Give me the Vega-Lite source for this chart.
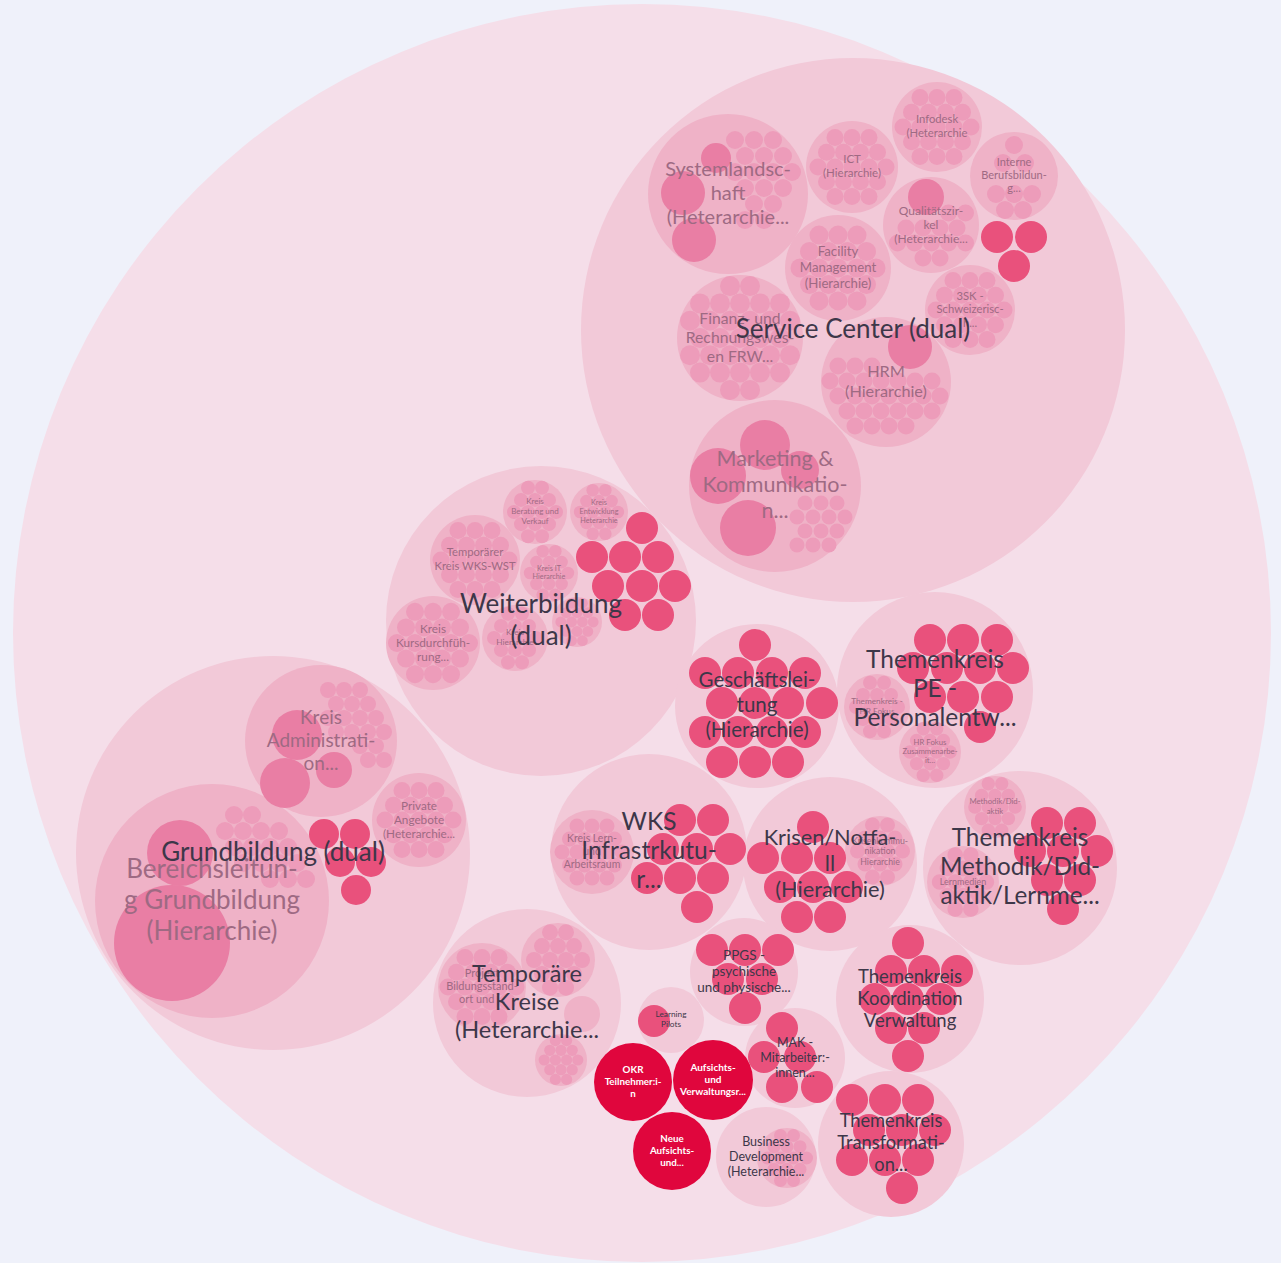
{
"$schema": "https://vega.github.io/schema/vega-lite/v6.json",
"width": 1281, "height": 1263,
"autosize": {"type": "none"},
"padding": 0,
"background": "#eff1fa",
"config": {"view": {"stroke": null}},
"data": {"values": [
{"g":"root","x":642,"y":633,"r":629},
{"g":"c1","x":853,"y":330,"r":272,"t":"Service Center (dual)"},
{"g":"c1","x":541,"y":621,"r":155,"t":"Weiterbildung\n(dual)"},
{"g":"c1","x":273,"y":853,"r":197,"t":"Grundbildung (dual)"},
{"g":"c1","x":757,"y":706,"r":82,"t":"Geschäftslei-\ntung\n(Hierarchie)"},
{"g":"c1","x":935,"y":690,"r":98,"t":"Themenkreis\nPE -\nPersonalentw..."},
{"g":"c1","x":649,"y":852,"r":98,"t":"WKS\nInfrastrkutu-\nr..."},
{"g":"c1","x":830,"y":864,"r":87,"t":"Krisen/Notfa-\nll\n(Hierarchie)"},
{"g":"c1","x":1020,"y":868,"r":97,"t":"Themenkreis\nMethodik/Did-\naktik/Lernme..."},
{"g":"c1","x":527,"y":1003,"r":94,"t":"Temporäre\nKreise\n(Heterarchie..."},
{"g":"c1","x":744,"y":972,"r":54,"t":"PPGS -\npsychische\nund physische..."},
{"g":"c1","x":910,"y":999,"r":74,"t":"Themenkreis\nKoordination\nVerwaltung"},
{"g":"c1","x":795,"y":1058,"r":50,"t":"MAK -\nMitarbeiter:-\ninnen..."},
{"g":"c1","x":891,"y":1144,"r":73,"t":"Themenkreis\nTransformati-\non..."},
{"g":"c1","x":766,"y":1157,"r":50,"t":"Business\nDevelopment\n(Heterarchie..."},
{"g":"c1","x":671,"y":1020,"r":33,"t":"Learning\nPilots"},
{"g":"c2","x":728,"y":194,"r":80,"t":"Systemlandsc-\nhaft\n(Heterarchie..."},
{"g":"c2","x":852,"y":167,"r":46,"t":"ICT\n(Hierarchie)"},
{"g":"c2","x":937,"y":127,"r":45,"t":"Infodesk\n(Heterarchie"},
{"g":"c2","x":1014,"y":176,"r":44,"t":"Interne\nBerufsbildun-\ng..."},
{"g":"c2","x":931,"y":225,"r":48,"t":"Qualitätszir-\nkel\n(Heterarchie..."},
{"g":"c2","x":838,"y":268,"r":53,"t":"Facility\nManagement\n(Hierarchie)"},
{"g":"c2","x":970,"y":310,"r":45,"t":"3SK -\nSchweizerisc-\nh..."},
{"g":"c2","x":740,"y":338,"r":63,"t":"Finanz- und\nRechnungswes-\nen FRW..."},
{"g":"c2","x":886,"y":382,"r":65,"t":"HRM\n(Hierarchie)"},
{"g":"c2","x":775,"y":486,"r":86,"t":"Marketing &\nKommunikatio-\nn..."},
{"g":"c2","x":535,"y":512,"r":32,"t":"Kreis\nBeratung und\nVerkauf"},
{"g":"c2","x":599,"y":512,"r":29,"t":"Kreis\nEntwicklung\nHeterarchie"},
{"g":"c2","x":475,"y":560,"r":45,"t":"Temporärer\nKreis WKS-WST"},
{"g":"c2","x":549,"y":573,"r":29,"t":"Kreis IT\nHierarchie"},
{"g":"c2","x":433,"y":643,"r":47,"t":"Kreis\nKursdurchfüh-\nrung..."},
{"g":"c2","x":515,"y":638,"r":33,"t":"Kreis\nHierarchie"},
{"g":"c2","x":577,"y":622,"r":25},
{"g":"c2","x":321,"y":741,"r":76,"t":"Kreis\nAdministrati-\non..."},
{"g":"c2","x":419,"y":820,"r":47,"t":"Private\nAngebote\n(Heterarchie..."},
{"g":"c2","x":212,"y":901,"r":117,"t":"Bereichsleitun-\ng Grundbildung\n(Hierarchie)"},
{"g":"c2","x":877,"y":707,"r":33,"t":"Themenkreis -\nHR Fokus"},
{"g":"c2","x":930,"y":752,"r":31,"t":"HR Fokus\nZusammenarbe-\nit..."},
{"g":"c2","x":592,"y":852,"r":42,"t":"Kreis Lern-\nund\nArbeitsraum"},
{"g":"c2","x":880,"y":851,"r":35,"t":"Krisenkommu-\nnikation\nHierarchie"},
{"g":"c2","x":995,"y":807,"r":31,"t":"Methodik/Did-\naktik"},
{"g":"c2","x":963,"y":882,"r":36,"t":"Lernmedien"},
{"g":"c2","x":482,"y":987,"r":44,"t":"Projekt\nBildungsstand-\nort und ..."},
{"g":"c2","x":558,"y":960,"r":37},
{"g":"c2","x":582,"y":1014,"r":18},
{"g":"c2","x":561,"y":1060,"r":26},
{"g":"c2","x":787,"y":1158,"r":30},
{"g":"c3","x":694,"y":240,"r":22},
{"g":"c3","x":683,"y":193,"r":22},
{"g":"c3","x":716,"y":158,"r":15},
{"g":"c3","x":765,"y":445,"r":25},
{"g":"c3","x":718,"y":476,"r":28},
{"g":"c3","x":748,"y":528,"r":28},
{"g":"c3","x":800,"y":470,"r":19},
{"g":"c3","x":910,"y":347,"r":22},
{"g":"c3","x":926,"y":197,"r":18},
{"g":"c3","x":297,"y":735,"r":25},
{"g":"c3","x":285,"y":783,"r":25},
{"g":"c3","x":334,"y":770,"r":18},
{"g":"c3","x":172,"y":943,"r":58},
{"g":"c3","x":180,"y":853,"r":33},
{"g":"r1","x":633,"y":1082,"r":39,"t":"OKR\nTeilnehmer:i-\nn"},
{"g":"r1","x":713,"y":1080,"r":40,"t":"Aufsichts-\nund\nVerwaltungsr..."},
{"g":"r1","x":672,"y":1151,"r":39,"t":"Neue\nAufsichts-\nund..."},
{"g":"r2","x":997,"y":237,"r":16},{"g":"r2","x":1031,"y":237,"r":16},{"g":"r2","x":1014,"y":266,"r":16},
{"g":"r2","x":642,"y":528,"r":16},{"g":"r2","x":592,"y":557,"r":16},{"g":"r2","x":625,"y":557,"r":16},{"g":"r2","x":658,"y":557,"r":16},{"g":"r2","x":608,"y":586,"r":16},{"g":"r2","x":642,"y":586,"r":16},{"g":"r2","x":675,"y":586,"r":16},{"g":"r2","x":625,"y":615,"r":16},{"g":"r2","x":658,"y":615,"r":16},
{"g":"r2","x":324,"y":834,"r":15},{"g":"r2","x":355,"y":834,"r":15},{"g":"r2","x":340,"y":862,"r":15},{"g":"r2","x":371,"y":862,"r":15},{"g":"r2","x":356,"y":890,"r":15},
{"g":"r2","x":755,"y":645,"r":16},{"g":"r2","x":705,"y":673,"r":16},{"g":"r2","x":738,"y":673,"r":16},{"g":"r2","x":772,"y":673,"r":16},{"g":"r2","x":805,"y":673,"r":16},{"g":"r2","x":722,"y":703,"r":16},{"g":"r2","x":755,"y":703,"r":16},{"g":"r2","x":788,"y":703,"r":16},{"g":"r2","x":822,"y":703,"r":16},{"g":"r2","x":705,"y":732,"r":16},{"g":"r2","x":738,"y":732,"r":16},{"g":"r2","x":772,"y":732,"r":16},{"g":"r2","x":805,"y":732,"r":16},{"g":"r2","x":722,"y":762,"r":16},{"g":"r2","x":755,"y":762,"r":16},{"g":"r2","x":788,"y":762,"r":16},
{"g":"r2","x":930,"y":640,"r":16},{"g":"r2","x":963,"y":640,"r":16},{"g":"r2","x":997,"y":640,"r":16},{"g":"r2","x":913,"y":668,"r":16},{"g":"r2","x":947,"y":668,"r":16},{"g":"r2","x":980,"y":668,"r":16},{"g":"r2","x":1013,"y":668,"r":16},{"g":"r2","x":930,"y":697,"r":16},{"g":"r2","x":963,"y":697,"r":16},{"g":"r2","x":997,"y":697,"r":16},{"g":"r2","x":980,"y":727,"r":16},
{"g":"r2","x":680,"y":820,"r":16},{"g":"r2","x":713,"y":820,"r":16},{"g":"r2","x":663,"y":849,"r":16},{"g":"r2","x":697,"y":849,"r":16},{"g":"r2","x":730,"y":849,"r":16},{"g":"r2","x":647,"y":878,"r":16},{"g":"r2","x":680,"y":878,"r":16},{"g":"r2","x":713,"y":878,"r":16},{"g":"r2","x":697,"y":907,"r":16},
{"g":"r2","x":813,"y":827,"r":16},{"g":"r2","x":763,"y":858,"r":16},{"g":"r2","x":797,"y":858,"r":16},{"g":"r2","x":830,"y":858,"r":16},{"g":"r2","x":780,"y":887,"r":16},{"g":"r2","x":813,"y":887,"r":16},{"g":"r2","x":847,"y":887,"r":16},{"g":"r2","x":797,"y":917,"r":16},{"g":"r2","x":830,"y":917,"r":16},
{"g":"r2","x":1047,"y":823,"r":16},{"g":"r2","x":1080,"y":823,"r":16},{"g":"r2","x":1030,"y":851,"r":16},{"g":"r2","x":1063,"y":851,"r":16},{"g":"r2","x":1097,"y":851,"r":16},{"g":"r2","x":1047,"y":880,"r":16},{"g":"r2","x":1080,"y":880,"r":16},{"g":"r2","x":1063,"y":909,"r":16},
{"g":"r2","x":712,"y":950,"r":16},{"g":"r2","x":745,"y":950,"r":16},{"g":"r2","x":778,"y":950,"r":16},{"g":"r2","x":728,"y":979,"r":16},{"g":"r2","x":762,"y":979,"r":16},{"g":"r2","x":745,"y":1008,"r":16},
{"g":"r2","x":908,"y":943,"r":16},{"g":"r2","x":891,"y":971,"r":16},{"g":"r2","x":924,"y":971,"r":16},{"g":"r2","x":957,"y":971,"r":16},{"g":"r2","x":875,"y":999,"r":16},{"g":"r2","x":908,"y":999,"r":16},{"g":"r2","x":941,"y":999,"r":16},{"g":"r2","x":891,"y":1028,"r":16},{"g":"r2","x":924,"y":1028,"r":16},{"g":"r2","x":908,"y":1056,"r":16},
{"g":"r2","x":782,"y":1028,"r":16},{"g":"r2","x":764,"y":1057,"r":16},{"g":"r2","x":800,"y":1057,"r":16},{"g":"r2","x":782,"y":1087,"r":16},{"g":"r2","x":817,"y":1087,"r":16},
{"g":"r2","x":852,"y":1100,"r":16},{"g":"r2","x":885,"y":1100,"r":16},{"g":"r2","x":918,"y":1100,"r":16},{"g":"r2","x":869,"y":1130,"r":16},{"g":"r2","x":902,"y":1130,"r":16},{"g":"r2","x":935,"y":1130,"r":16},{"g":"r2","x":852,"y":1160,"r":16},{"g":"r2","x":885,"y":1160,"r":16},{"g":"r2","x":918,"y":1160,"r":16},{"g":"r2","x":902,"y":1188,"r":16},
{"g":"r2","x":654,"y":1021,"r":16},
{"g":"r3","x":735,"y":140,"r":9},{"g":"r3","x":754,"y":140,"r":9},{"g":"r3","x":773,"y":140,"r":9},{"g":"r3","x":745,"y":156,"r":9},{"g":"r3","x":764,"y":156,"r":9},{"g":"r3","x":783,"y":156,"r":9},{"g":"r3","x":735,"y":172,"r":9},{"g":"r3","x":754,"y":172,"r":9},{"g":"r3","x":773,"y":172,"r":9},{"g":"r3","x":792,"y":172,"r":9},{"g":"r3","x":745,"y":188,"r":9},{"g":"r3","x":764,"y":188,"r":9},{"g":"r3","x":783,"y":188,"r":9},{"g":"r3","x":754,"y":204,"r":9},{"g":"r3","x":773,"y":204,"r":9},{"g":"r3","x":745,"y":220,"r":9},{"g":"r3","x":764,"y":220,"r":9},
{"g":"r3","x":818,"y":167,"r":8.5},{"g":"r3","x":835,"y":167,"r":8.5},{"g":"r3","x":852,"y":167,"r":8.5},{"g":"r3","x":869,"y":167,"r":8.5},{"g":"r3","x":886,"y":167,"r":8.5},{"g":"r3","x":826.5,"y":152.3,"r":8.5},{"g":"r3","x":843.5,"y":152.3,"r":8.5},{"g":"r3","x":860.5,"y":152.3,"r":8.5},{"g":"r3","x":877.5,"y":152.3,"r":8.5},{"g":"r3","x":826.5,"y":181.7,"r":8.5},{"g":"r3","x":843.5,"y":181.7,"r":8.5},{"g":"r3","x":860.5,"y":181.7,"r":8.5},{"g":"r3","x":877.5,"y":181.7,"r":8.5},{"g":"r3","x":835,"y":137.6,"r":8.5},{"g":"r3","x":852,"y":137.6,"r":8.5},{"g":"r3","x":869,"y":137.6,"r":8.5},{"g":"r3","x":835,"y":196.4,"r":8.5},{"g":"r3","x":852,"y":196.4,"r":8.5},{"g":"r3","x":869,"y":196.4,"r":8.5},
{"g":"r3","x":903,"y":127,"r":8.5},{"g":"r3","x":920,"y":127,"r":8.5},{"g":"r3","x":937,"y":127,"r":8.5},{"g":"r3","x":954,"y":127,"r":8.5},{"g":"r3","x":971,"y":127,"r":8.5},{"g":"r3","x":911.5,"y":112.3,"r":8.5},{"g":"r3","x":928.5,"y":112.3,"r":8.5},{"g":"r3","x":945.5,"y":112.3,"r":8.5},{"g":"r3","x":962.5,"y":112.3,"r":8.5},{"g":"r3","x":911.5,"y":141.7,"r":8.5},{"g":"r3","x":928.5,"y":141.7,"r":8.5},{"g":"r3","x":945.5,"y":141.7,"r":8.5},{"g":"r3","x":962.5,"y":141.7,"r":8.5},{"g":"r3","x":920,"y":97.6,"r":8.5},{"g":"r3","x":937,"y":97.6,"r":8.5},{"g":"r3","x":954,"y":97.6,"r":8.5},{"g":"r3","x":920,"y":156.4,"r":8.5},{"g":"r3","x":937,"y":156.4,"r":8.5},{"g":"r3","x":954,"y":156.4,"r":8.5},
{"g":"r3","x":1014,"y":145,"r":9},{"g":"r3","x":1003,"y":163,"r":9},{"g":"r3","x":1025,"y":163,"r":9},{"g":"r3","x":996,"y":194,"r":9},{"g":"r3","x":1014,"y":194,"r":9},{"g":"r3","x":1032,"y":194,"r":9},{"g":"r3","x":1005,"y":210,"r":9},{"g":"r3","x":1023,"y":210,"r":9},
{"g":"r3","x":906,"y":228,"r":8.5},{"g":"r3","x":923,"y":228,"r":8.5},{"g":"r3","x":940,"y":228,"r":8.5},{"g":"r3","x":957,"y":228,"r":8.5},{"g":"r3","x":897.5,"y":243,"r":8.5},{"g":"r3","x":914.5,"y":243,"r":8.5},{"g":"r3","x":931.5,"y":243,"r":8.5},{"g":"r3","x":948.5,"y":243,"r":8.5},{"g":"r3","x":965.5,"y":243,"r":8.5},{"g":"r3","x":923,"y":258,"r":8.5},{"g":"r3","x":940,"y":258,"r":8.5},{"g":"r3","x":948.5,"y":213,"r":8.5},{"g":"r3","x":965.5,"y":213,"r":8.5},
{"g":"r3","x":800,"y":268,"r":9.5},{"g":"r3","x":819,"y":268,"r":9.5},{"g":"r3","x":838,"y":268,"r":9.5},{"g":"r3","x":857,"y":268,"r":9.5},{"g":"r3","x":876,"y":268,"r":9.5},{"g":"r3","x":809.5,"y":251.5,"r":9.5},{"g":"r3","x":828.5,"y":251.5,"r":9.5},{"g":"r3","x":847.5,"y":251.5,"r":9.5},{"g":"r3","x":866.5,"y":251.5,"r":9.5},{"g":"r3","x":809.5,"y":284.5,"r":9.5},{"g":"r3","x":828.5,"y":284.5,"r":9.5},{"g":"r3","x":847.5,"y":284.5,"r":9.5},{"g":"r3","x":866.5,"y":284.5,"r":9.5},{"g":"r3","x":819,"y":235.1,"r":9.5},{"g":"r3","x":838,"y":235.1,"r":9.5},{"g":"r3","x":857,"y":235.1,"r":9.5},{"g":"r3","x":819,"y":300.9,"r":9.5},{"g":"r3","x":838,"y":300.9,"r":9.5},{"g":"r3","x":857,"y":300.9,"r":9.5},
{"g":"r3","x":936,"y":310,"r":8.5},{"g":"r3","x":953,"y":310,"r":8.5},{"g":"r3","x":970,"y":310,"r":8.5},{"g":"r3","x":987,"y":310,"r":8.5},{"g":"r3","x":1004,"y":310,"r":8.5},{"g":"r3","x":944.5,"y":295.3,"r":8.5},{"g":"r3","x":961.5,"y":295.3,"r":8.5},{"g":"r3","x":978.5,"y":295.3,"r":8.5},{"g":"r3","x":995.5,"y":295.3,"r":8.5},{"g":"r3","x":944.5,"y":324.7,"r":8.5},{"g":"r3","x":961.5,"y":324.7,"r":8.5},{"g":"r3","x":978.5,"y":324.7,"r":8.5},{"g":"r3","x":995.5,"y":324.7,"r":8.5},{"g":"r3","x":953,"y":280.6,"r":8.5},{"g":"r3","x":970,"y":280.6,"r":8.5},{"g":"r3","x":987,"y":280.6,"r":8.5},{"g":"r3","x":953,"y":339.4,"r":8.5},{"g":"r3","x":970,"y":339.4,"r":8.5},{"g":"r3","x":987,"y":339.4,"r":8.5},
{"g":"r3","x":700,"y":338,"r":10},{"g":"r3","x":720,"y":338,"r":10},{"g":"r3","x":740,"y":338,"r":10},{"g":"r3","x":760,"y":338,"r":10},{"g":"r3","x":780,"y":338,"r":10},{"g":"r3","x":690,"y":320.7,"r":10},{"g":"r3","x":710,"y":320.7,"r":10},{"g":"r3","x":730,"y":320.7,"r":10},{"g":"r3","x":750,"y":320.7,"r":10},{"g":"r3","x":770,"y":320.7,"r":10},{"g":"r3","x":790,"y":320.7,"r":10},{"g":"r3","x":690,"y":355.3,"r":10},{"g":"r3","x":710,"y":355.3,"r":10},{"g":"r3","x":730,"y":355.3,"r":10},{"g":"r3","x":750,"y":355.3,"r":10},{"g":"r3","x":770,"y":355.3,"r":10},{"g":"r3","x":790,"y":355.3,"r":10},{"g":"r3","x":700,"y":303.4,"r":10},{"g":"r3","x":720,"y":303.4,"r":10},{"g":"r3","x":740,"y":303.4,"r":10},{"g":"r3","x":760,"y":303.4,"r":10},{"g":"r3","x":780,"y":303.4,"r":10},{"g":"r3","x":700,"y":372.6,"r":10},{"g":"r3","x":720,"y":372.6,"r":10},{"g":"r3","x":740,"y":372.6,"r":10},{"g":"r3","x":760,"y":372.6,"r":10},{"g":"r3","x":780,"y":372.6,"r":10},{"g":"r3","x":730,"y":286.1,"r":10},{"g":"r3","x":750,"y":286.1,"r":10},{"g":"r3","x":730,"y":389.9,"r":10},{"g":"r3","x":750,"y":389.9,"r":10},
{"g":"r3","x":838,"y":366,"r":8.5},{"g":"r3","x":855,"y":366,"r":8.5},{"g":"r3","x":872,"y":366,"r":8.5},{"g":"r3","x":830,"y":381,"r":8.5},{"g":"r3","x":847,"y":381,"r":8.5},{"g":"r3","x":864,"y":381,"r":8.5},{"g":"r3","x":881,"y":381,"r":8.5},{"g":"r3","x":898,"y":381,"r":8.5},{"g":"r3","x":915,"y":381,"r":8.5},{"g":"r3","x":932,"y":381,"r":8.5},{"g":"r3","x":838,"y":396,"r":8.5},{"g":"r3","x":855,"y":396,"r":8.5},{"g":"r3","x":872,"y":396,"r":8.5},{"g":"r3","x":889,"y":396,"r":8.5},{"g":"r3","x":906,"y":396,"r":8.5},{"g":"r3","x":923,"y":396,"r":8.5},{"g":"r3","x":940,"y":396,"r":8.5},{"g":"r3","x":847,"y":411,"r":8.5},{"g":"r3","x":864,"y":411,"r":8.5},{"g":"r3","x":881,"y":411,"r":8.5},{"g":"r3","x":898,"y":411,"r":8.5},{"g":"r3","x":915,"y":411,"r":8.5},{"g":"r3","x":932,"y":411,"r":8.5},{"g":"r3","x":855,"y":426,"r":8.5},{"g":"r3","x":872,"y":426,"r":8.5},{"g":"r3","x":889,"y":426,"r":8.5},{"g":"r3","x":906,"y":426,"r":8.5},
{"g":"r3","x":805,"y":503,"r":7.5},{"g":"r3","x":821,"y":503,"r":7.5},{"g":"r3","x":837,"y":503,"r":7.5},{"g":"r3","x":797,"y":517,"r":7.5},{"g":"r3","x":813,"y":517,"r":7.5},{"g":"r3","x":829,"y":517,"r":7.5},{"g":"r3","x":845,"y":517,"r":7.5},{"g":"r3","x":805,"y":531,"r":7.5},{"g":"r3","x":821,"y":531,"r":7.5},{"g":"r3","x":837,"y":531,"r":7.5},{"g":"r3","x":797,"y":545,"r":7.5},{"g":"r3","x":813,"y":545,"r":7.5},{"g":"r3","x":829,"y":545,"r":7.5},
{"g":"r3","x":514,"y":512,"r":7},{"g":"r3","x":528,"y":512,"r":7},{"g":"r3","x":542,"y":512,"r":7},{"g":"r3","x":556,"y":512,"r":7},{"g":"r3","x":521,"y":499.9,"r":7},{"g":"r3","x":535,"y":499.9,"r":7},{"g":"r3","x":549,"y":499.9,"r":7},{"g":"r3","x":521,"y":524.1,"r":7},{"g":"r3","x":535,"y":524.1,"r":7},{"g":"r3","x":549,"y":524.1,"r":7},{"g":"r3","x":528,"y":487.8,"r":7},{"g":"r3","x":542,"y":487.8,"r":7},{"g":"r3","x":528,"y":536.2,"r":7},{"g":"r3","x":542,"y":536.2,"r":7},
{"g":"r3","x":580.1,"y":512,"r":6.3},{"g":"r3","x":592.7,"y":512,"r":6.3},{"g":"r3","x":605.3,"y":512,"r":6.3},{"g":"r3","x":617.9,"y":512,"r":6.3},{"g":"r3","x":586.4,"y":501.1,"r":6.3},{"g":"r3","x":599,"y":501.1,"r":6.3},{"g":"r3","x":611.6,"y":501.1,"r":6.3},{"g":"r3","x":586.4,"y":522.9,"r":6.3},{"g":"r3","x":599,"y":522.9,"r":6.3},{"g":"r3","x":611.6,"y":522.9,"r":6.3},{"g":"r3","x":592.7,"y":490.2,"r":6.3},{"g":"r3","x":605.3,"y":490.2,"r":6.3},{"g":"r3","x":592.7,"y":533.8,"r":6.3},{"g":"r3","x":605.3,"y":533.8,"r":6.3},
{"g":"r3","x":441,"y":560,"r":8.5},{"g":"r3","x":458,"y":560,"r":8.5},{"g":"r3","x":475,"y":560,"r":8.5},{"g":"r3","x":492,"y":560,"r":8.5},{"g":"r3","x":509,"y":560,"r":8.5},{"g":"r3","x":449.5,"y":545.3,"r":8.5},{"g":"r3","x":466.5,"y":545.3,"r":8.5},{"g":"r3","x":483.5,"y":545.3,"r":8.5},{"g":"r3","x":500.5,"y":545.3,"r":8.5},{"g":"r3","x":449.5,"y":574.7,"r":8.5},{"g":"r3","x":466.5,"y":574.7,"r":8.5},{"g":"r3","x":483.5,"y":574.7,"r":8.5},{"g":"r3","x":500.5,"y":574.7,"r":8.5},{"g":"r3","x":458,"y":530.6,"r":8.5},{"g":"r3","x":475,"y":530.6,"r":8.5},{"g":"r3","x":492,"y":530.6,"r":8.5},{"g":"r3","x":458,"y":589.4,"r":8.5},{"g":"r3","x":475,"y":589.4,"r":8.5},{"g":"r3","x":492,"y":589.4,"r":8.5},
{"g":"r3","x":530.1,"y":573,"r":6.3},{"g":"r3","x":542.7,"y":573,"r":6.3},{"g":"r3","x":555.3,"y":573,"r":6.3},{"g":"r3","x":567.9,"y":573,"r":6.3},{"g":"r3","x":536.4,"y":562.1,"r":6.3},{"g":"r3","x":549,"y":562.1,"r":6.3},{"g":"r3","x":561.6,"y":562.1,"r":6.3},{"g":"r3","x":536.4,"y":583.9,"r":6.3},{"g":"r3","x":549,"y":583.9,"r":6.3},{"g":"r3","x":561.6,"y":583.9,"r":6.3},{"g":"r3","x":542.7,"y":551.2,"r":6.3},{"g":"r3","x":555.3,"y":551.2,"r":6.3},{"g":"r3","x":542.7,"y":594.8,"r":6.3},{"g":"r3","x":555.3,"y":594.8,"r":6.3},
{"g":"r3","x":397,"y":643,"r":9},{"g":"r3","x":415,"y":643,"r":9},{"g":"r3","x":433,"y":643,"r":9},{"g":"r3","x":451,"y":643,"r":9},{"g":"r3","x":469,"y":643,"r":9},{"g":"r3","x":406,"y":627.4,"r":9},{"g":"r3","x":424,"y":627.4,"r":9},{"g":"r3","x":442,"y":627.4,"r":9},{"g":"r3","x":460,"y":627.4,"r":9},{"g":"r3","x":406,"y":658.6,"r":9},{"g":"r3","x":424,"y":658.6,"r":9},{"g":"r3","x":442,"y":658.6,"r":9},{"g":"r3","x":460,"y":658.6,"r":9},{"g":"r3","x":415,"y":611.8,"r":9},{"g":"r3","x":433,"y":611.8,"r":9},{"g":"r3","x":451,"y":611.8,"r":9},{"g":"r3","x":415,"y":674.2,"r":9},{"g":"r3","x":433,"y":674.2,"r":9},{"g":"r3","x":451,"y":674.2,"r":9},
{"g":"r3","x":494,"y":638,"r":7},{"g":"r3","x":508,"y":638,"r":7},{"g":"r3","x":522,"y":638,"r":7},{"g":"r3","x":536,"y":638,"r":7},{"g":"r3","x":501,"y":625.9,"r":7},{"g":"r3","x":515,"y":625.9,"r":7},{"g":"r3","x":529,"y":625.9,"r":7},{"g":"r3","x":501,"y":650.1,"r":7},{"g":"r3","x":515,"y":650.1,"r":7},{"g":"r3","x":529,"y":650.1,"r":7},{"g":"r3","x":508,"y":613.8,"r":7},{"g":"r3","x":522,"y":613.8,"r":7},{"g":"r3","x":508,"y":662.2,"r":7},{"g":"r3","x":522,"y":662.2,"r":7},
{"g":"r3","x":560.8,"y":622,"r":5.4},{"g":"r3","x":571.6,"y":622,"r":5.4},{"g":"r3","x":582.4,"y":622,"r":5.4},{"g":"r3","x":593.2,"y":622,"r":5.4},{"g":"r3","x":566.2,"y":612.6,"r":5.4},{"g":"r3","x":577,"y":612.6,"r":5.4},{"g":"r3","x":587.8,"y":612.6,"r":5.4},{"g":"r3","x":566.2,"y":631.4,"r":5.4},{"g":"r3","x":577,"y":631.4,"r":5.4},{"g":"r3","x":587.8,"y":631.4,"r":5.4},{"g":"r3","x":571.6,"y":603.3,"r":5.4},{"g":"r3","x":582.4,"y":603.3,"r":5.4},{"g":"r3","x":571.6,"y":640.7,"r":5.4},{"g":"r3","x":582.4,"y":640.7,"r":5.4},
{"g":"r3","x":328,"y":690,"r":8},{"g":"r3","x":344,"y":690,"r":8},{"g":"r3","x":360,"y":690,"r":8},{"g":"r3","x":336,"y":704,"r":8},{"g":"r3","x":352,"y":704,"r":8},{"g":"r3","x":368,"y":704,"r":8},{"g":"r3","x":328,"y":718,"r":8},{"g":"r3","x":344,"y":718,"r":8},{"g":"r3","x":360,"y":718,"r":8},{"g":"r3","x":376,"y":718,"r":8},{"g":"r3","x":336,"y":732,"r":8},{"g":"r3","x":352,"y":732,"r":8},{"g":"r3","x":368,"y":732,"r":8},{"g":"r3","x":384,"y":732,"r":8},{"g":"r3","x":360,"y":746,"r":8},{"g":"r3","x":376,"y":746,"r":8},{"g":"r3","x":368,"y":760,"r":8},{"g":"r3","x":384,"y":760,"r":8},
{"g":"r3","x":385,"y":820,"r":8.5},{"g":"r3","x":402,"y":820,"r":8.5},{"g":"r3","x":419,"y":820,"r":8.5},{"g":"r3","x":436,"y":820,"r":8.5},{"g":"r3","x":453,"y":820,"r":8.5},{"g":"r3","x":393.5,"y":805.3,"r":8.5},{"g":"r3","x":410.5,"y":805.3,"r":8.5},{"g":"r3","x":427.5,"y":805.3,"r":8.5},{"g":"r3","x":444.5,"y":805.3,"r":8.5},{"g":"r3","x":393.5,"y":834.7,"r":8.5},{"g":"r3","x":410.5,"y":834.7,"r":8.5},{"g":"r3","x":427.5,"y":834.7,"r":8.5},{"g":"r3","x":444.5,"y":834.7,"r":8.5},{"g":"r3","x":402,"y":790.6,"r":8.5},{"g":"r3","x":419,"y":790.6,"r":8.5},{"g":"r3","x":436,"y":790.6,"r":8.5},{"g":"r3","x":402,"y":849.4,"r":8.5},{"g":"r3","x":419,"y":849.4,"r":8.5},{"g":"r3","x":436,"y":849.4,"r":8.5},
{"g":"r3","x":234,"y":815,"r":9},{"g":"r3","x":252,"y":815,"r":9},{"g":"r3","x":225,"y":831,"r":9},{"g":"r3","x":243,"y":831,"r":9},{"g":"r3","x":261,"y":831,"r":9},{"g":"r3","x":279,"y":831,"r":9},{"g":"r3","x":234,"y":847,"r":9},{"g":"r3","x":252,"y":847,"r":9},{"g":"r3","x":270,"y":847,"r":9},{"g":"r3","x":288,"y":847,"r":9},{"g":"r3","x":243,"y":863,"r":9},{"g":"r3","x":261,"y":863,"r":9},{"g":"r3","x":279,"y":863,"r":9},{"g":"r3","x":297,"y":863,"r":9},{"g":"r3","x":270,"y":879,"r":9},{"g":"r3","x":288,"y":879,"r":9},{"g":"r3","x":306,"y":879,"r":9},
{"g":"r3","x":856,"y":707,"r":7},{"g":"r3","x":870,"y":707,"r":7},{"g":"r3","x":884,"y":707,"r":7},{"g":"r3","x":898,"y":707,"r":7},{"g":"r3","x":863,"y":694.9,"r":7},{"g":"r3","x":877,"y":694.9,"r":7},{"g":"r3","x":891,"y":694.9,"r":7},{"g":"r3","x":863,"y":719.1,"r":7},{"g":"r3","x":877,"y":719.1,"r":7},{"g":"r3","x":891,"y":719.1,"r":7},{"g":"r3","x":870,"y":682.8,"r":7},{"g":"r3","x":884,"y":682.8,"r":7},{"g":"r3","x":870,"y":731.2,"r":7},{"g":"r3","x":884,"y":731.2,"r":7},
{"g":"r3","x":909.9,"y":752,"r":6.7},{"g":"r3","x":923.3,"y":752,"r":6.7},{"g":"r3","x":936.7,"y":752,"r":6.7},{"g":"r3","x":950.1,"y":752,"r":6.7},{"g":"r3","x":916.6,"y":740.4,"r":6.7},{"g":"r3","x":930,"y":740.4,"r":6.7},{"g":"r3","x":943.4,"y":740.4,"r":6.7},{"g":"r3","x":916.6,"y":763.6,"r":6.7},{"g":"r3","x":930,"y":763.6,"r":6.7},{"g":"r3","x":943.4,"y":763.6,"r":6.7},{"g":"r3","x":923.3,"y":728.8,"r":6.7},{"g":"r3","x":936.7,"y":728.8,"r":6.7},{"g":"r3","x":923.3,"y":775.2,"r":6.7},{"g":"r3","x":936.7,"y":775.2,"r":6.7},
{"g":"r3","x":562,"y":852,"r":7.5},{"g":"r3","x":577,"y":852,"r":7.5},{"g":"r3","x":592,"y":852,"r":7.5},{"g":"r3","x":607,"y":852,"r":7.5},{"g":"r3","x":622,"y":852,"r":7.5},{"g":"r3","x":569.5,"y":839,"r":7.5},{"g":"r3","x":584.5,"y":839,"r":7.5},{"g":"r3","x":599.5,"y":839,"r":7.5},{"g":"r3","x":614.5,"y":839,"r":7.5},{"g":"r3","x":569.5,"y":865,"r":7.5},{"g":"r3","x":584.5,"y":865,"r":7.5},{"g":"r3","x":599.5,"y":865,"r":7.5},{"g":"r3","x":614.5,"y":865,"r":7.5},{"g":"r3","x":577,"y":826,"r":7.5},{"g":"r3","x":592,"y":826,"r":7.5},{"g":"r3","x":607,"y":826,"r":7.5},{"g":"r3","x":577,"y":878,"r":7.5},{"g":"r3","x":592,"y":878,"r":7.5},{"g":"r3","x":607,"y":878,"r":7.5},
{"g":"r3","x":857.5,"y":851,"r":7.5},{"g":"r3","x":872.5,"y":851,"r":7.5},{"g":"r3","x":887.5,"y":851,"r":7.5},{"g":"r3","x":902.5,"y":851,"r":7.5},{"g":"r3","x":865,"y":838,"r":7.5},{"g":"r3","x":880,"y":838,"r":7.5},{"g":"r3","x":895,"y":838,"r":7.5},{"g":"r3","x":865,"y":864,"r":7.5},{"g":"r3","x":880,"y":864,"r":7.5},{"g":"r3","x":895,"y":864,"r":7.5},{"g":"r3","x":872.5,"y":825,"r":7.5},{"g":"r3","x":887.5,"y":825,"r":7.5},{"g":"r3","x":872.5,"y":877,"r":7.5},{"g":"r3","x":887.5,"y":877,"r":7.5},
{"g":"r3","x":974.9,"y":807,"r":6.7},{"g":"r3","x":988.3,"y":807,"r":6.7},{"g":"r3","x":1001.7,"y":807,"r":6.7},{"g":"r3","x":1015.1,"y":807,"r":6.7},{"g":"r3","x":981.6,"y":795.4,"r":6.7},{"g":"r3","x":995,"y":795.4,"r":6.7},{"g":"r3","x":1008.4,"y":795.4,"r":6.7},{"g":"r3","x":981.6,"y":818.6,"r":6.7},{"g":"r3","x":995,"y":818.6,"r":6.7},{"g":"r3","x":1008.4,"y":818.6,"r":6.7},{"g":"r3","x":988.3,"y":783.8,"r":6.7},{"g":"r3","x":1001.7,"y":783.8,"r":6.7},{"g":"r3","x":988.3,"y":830.2,"r":6.7},{"g":"r3","x":1001.7,"y":830.2,"r":6.7},
{"g":"r3","x":939.6,"y":882,"r":7.8},{"g":"r3","x":955.2,"y":882,"r":7.8},{"g":"r3","x":970.8,"y":882,"r":7.8},{"g":"r3","x":986.4,"y":882,"r":7.8},{"g":"r3","x":947.4,"y":868.5,"r":7.8},{"g":"r3","x":963,"y":868.5,"r":7.8},{"g":"r3","x":978.6,"y":868.5,"r":7.8},{"g":"r3","x":947.4,"y":895.5,"r":7.8},{"g":"r3","x":963,"y":895.5,"r":7.8},{"g":"r3","x":978.6,"y":895.5,"r":7.8},{"g":"r3","x":955.2,"y":855,"r":7.8},{"g":"r3","x":970.8,"y":855,"r":7.8},{"g":"r3","x":955.2,"y":909,"r":7.8},{"g":"r3","x":970.8,"y":909,"r":7.8},
{"g":"r3","x":448,"y":987,"r":8.5},{"g":"r3","x":465,"y":987,"r":8.5},{"g":"r3","x":482,"y":987,"r":8.5},{"g":"r3","x":499,"y":987,"r":8.5},{"g":"r3","x":516,"y":987,"r":8.5},{"g":"r3","x":456.5,"y":972.3,"r":8.5},{"g":"r3","x":473.5,"y":972.3,"r":8.5},{"g":"r3","x":490.5,"y":972.3,"r":8.5},{"g":"r3","x":507.5,"y":972.3,"r":8.5},{"g":"r3","x":456.5,"y":1001.7,"r":8.5},{"g":"r3","x":473.5,"y":1001.7,"r":8.5},{"g":"r3","x":490.5,"y":1001.7,"r":8.5},{"g":"r3","x":507.5,"y":1001.7,"r":8.5},{"g":"r3","x":465,"y":957.6,"r":8.5},{"g":"r3","x":482,"y":957.6,"r":8.5},{"g":"r3","x":499,"y":957.6,"r":8.5},{"g":"r3","x":465,"y":1016.4,"r":8.5},{"g":"r3","x":482,"y":1016.4,"r":8.5},{"g":"r3","x":499,"y":1016.4,"r":8.5},
{"g":"r3","x":534,"y":960,"r":8},{"g":"r3","x":550,"y":960,"r":8},{"g":"r3","x":566,"y":960,"r":8},{"g":"r3","x":582,"y":960,"r":8},{"g":"r3","x":542,"y":946.1,"r":8},{"g":"r3","x":558,"y":946.1,"r":8},{"g":"r3","x":574,"y":946.1,"r":8},{"g":"r3","x":542,"y":973.9,"r":8},{"g":"r3","x":558,"y":973.9,"r":8},{"g":"r3","x":574,"y":973.9,"r":8},{"g":"r3","x":550,"y":932.3,"r":8},{"g":"r3","x":566,"y":932.3,"r":8},{"g":"r3","x":550,"y":987.7,"r":8},{"g":"r3","x":566,"y":987.7,"r":8},
{"g":"r3","x":544.2,"y":1060,"r":5.6},{"g":"r3","x":555.4,"y":1060,"r":5.6},{"g":"r3","x":566.6,"y":1060,"r":5.6},{"g":"r3","x":577.8,"y":1060,"r":5.6},{"g":"r3","x":549.8,"y":1050.3,"r":5.6},{"g":"r3","x":561,"y":1050.3,"r":5.6},{"g":"r3","x":572.2,"y":1050.3,"r":5.6},{"g":"r3","x":549.8,"y":1069.7,"r":5.6},{"g":"r3","x":561,"y":1069.7,"r":5.6},{"g":"r3","x":572.2,"y":1069.7,"r":5.6},{"g":"r3","x":555.4,"y":1040.6,"r":5.6},{"g":"r3","x":566.6,"y":1040.6,"r":5.6},{"g":"r3","x":555.4,"y":1079.4,"r":5.6},{"g":"r3","x":566.6,"y":1079.4,"r":5.6},
{"g":"r3","x":767.5,"y":1158,"r":6.5},{"g":"r3","x":780.5,"y":1158,"r":6.5},{"g":"r3","x":793.5,"y":1158,"r":6.5},{"g":"r3","x":806.5,"y":1158,"r":6.5},{"g":"r3","x":774,"y":1146.7,"r":6.5},{"g":"r3","x":787,"y":1146.7,"r":6.5},{"g":"r3","x":800,"y":1146.7,"r":6.5},{"g":"r3","x":774,"y":1169.3,"r":6.5},{"g":"r3","x":787,"y":1169.3,"r":6.5},{"g":"r3","x":800,"y":1169.3,"r":6.5},{"g":"r3","x":780.5,"y":1135.5,"r":6.5},{"g":"r3","x":793.5,"y":1135.5,"r":6.5},{"g":"r3","x":780.5,"y":1180.5,"r":6.5},{"g":"r3","x":793.5,"y":1180.5,"r":6.5}
]},
"encoding": {
  "x": {"field": "x", "type": "quantitative", "scale": {"domain": [0, 1281], "nice": false, "zero": false}, "axis": null},
  "y": {"field": "y", "type": "quantitative", "scale": {"domain": [0, 1263], "nice": false, "zero": false, "reverse": true}, "axis": null}
},
"layer": [
  {
    "mark": {"type": "point", "shape": "circle", "filled": true, "opacity": 1, "strokeWidth": 0},
    "encoding": {
      "size": {"field": "r", "type": "quantitative", "scale": {"type": "pow", "exponent": 2, "domain": [0, 700], "range": [0, 1960000]}, "legend": null},
      "color": {"field": "g", "type": "nominal", "scale": {"domain": ["root", "c1", "c2", "c3", "r1", "r2", "r3"], "range": ["#f5dee9", "#f2c9d8", "#efb2c7", "#e97ea4", "#e0063d", "#e9517c", "#ed9cba"]}, "legend": null}
    }
  },
  {
    "transform": [{"filter": "datum.g == 'c2' && datum.t"}],
    "mark": {"type": "text", "font": "Lato", "align": "center", "baseline": "middle", "lineBreak": "\n", "fill": "#9e6a83",
      "lineHeight": {"expr": "min(datum.r * 0.25, 26) * 1.2"},
      "dy": {"expr": "-(length(split(datum.t, '\\n')) - 1) * min(datum.r * 0.25, 26) * 0.6"}},
    "encoding": {
      "text": {"field": "t"},
      "size": {"field": "r", "type": "quantitative", "scale": {"domain": [0, 104], "range": [0, 26], "clamp": true}, "legend": null}
    }
  },
  {
    "transform": [{"filter": "datum.g == 'r1'"}],
    "mark": {"type": "text", "font": "Lato", "fontWeight": "bold", "align": "center", "baseline": "middle", "lineBreak": "\n", "fill": "#ffffff",
      "lineHeight": {"expr": "min(datum.r * 0.25, 26) * 1.2"},
      "dy": {"expr": "-(length(split(datum.t, '\\n')) - 1) * min(datum.r * 0.25, 26) * 0.6"}},
    "encoding": {
      "text": {"field": "t"},
      "size": {"field": "r", "type": "quantitative", "scale": {"domain": [0, 104], "range": [0, 26], "clamp": true}, "legend": null}
    }
  },
  {
    "transform": [{"filter": "datum.g == 'c1' && datum.t"}],
    "mark": {"type": "text", "font": "Lato", "align": "center", "baseline": "middle", "lineBreak": "\n", "fill": "#3d3749",
      "lineHeight": {"expr": "min(datum.r * 0.25, 26) * 1.2"},
      "dy": {"expr": "-(length(split(datum.t, '\\n')) - 1) * min(datum.r * 0.25, 26) * 0.6"}},
    "encoding": {
      "text": {"field": "t"},
      "size": {"field": "r", "type": "quantitative", "scale": {"domain": [0, 104], "range": [0, 26], "clamp": true}, "legend": null}
    }
  }
],
"resolve": {"scale": {"size": "independent"}}
}
